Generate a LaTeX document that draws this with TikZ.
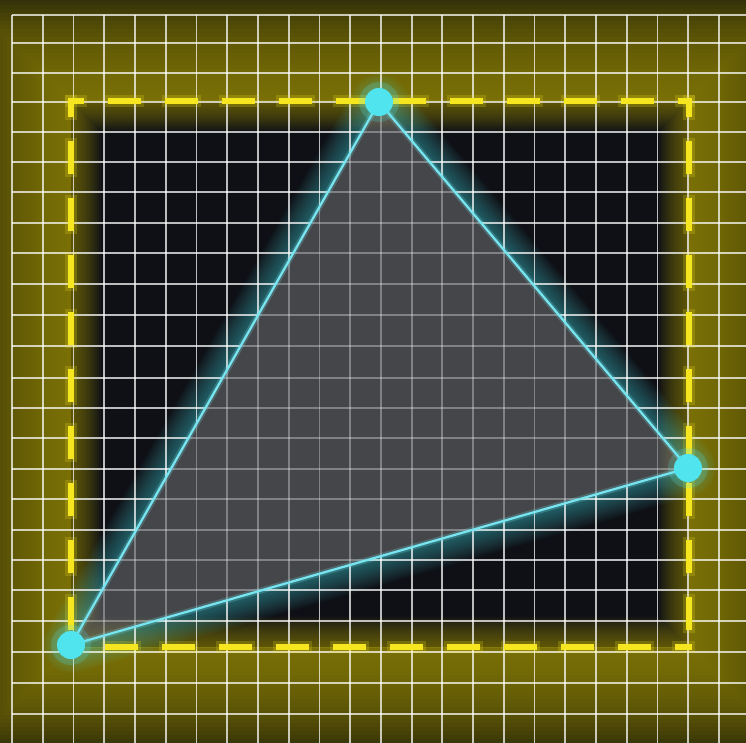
\documentclass[tikz,border=0pt]{standalone}
\usetikzlibrary{calc}
\definecolor{bgolive}{RGB}{38,36,12}
\definecolor{glowy}{RGB}{150,138,6}
\definecolor{innerdark}{RGB}{14,16,21}
\definecolor{dashy}{RGB}{246,230,32}
\definecolor{cyanline}{RGB}{120,230,240}
\definecolor{cyandot}{RGB}{80,228,238}
\definecolor{trifill}{RGB}{122,124,128}
\newcommand\drawmygrid[1]{%
  \foreach \k in {0,...,23}{%
    \pgfmathsetmacro\gx{12+30.74*\k}%
    \draw[gridline,opacity=#1] (\gx,15) -- (\gx,743);}%
  \foreach \gy in {15,43,73,102,132,162,192,223,253,284,315,346,378,408,438,469,499,530,560,590,621,652,683,714}{%
    \draw[gridline,opacity=#1] (12,\gy) -- (746,\gy);}%
}
\begin{document}
\begin{tikzpicture}[x=1pt,y=-1pt,
  gridline/.style={draw=white,line width=1.8pt},
  yd/.style={draw=dashy,line width=5.5pt,line cap=rect,dash pattern=on 27pt off 30pt},
  ydglow/.style={draw=dashy,line width=12pt,line cap=rect,dash pattern=on 27pt off 30pt,opacity=0.2},
  vdot/.style={circle,fill=cyandot,minimum size=28pt,inner sep=0pt,draw=none},
  edge/.style={draw=cyanline,line width=2.2pt,line join=round}]
\useasboundingbox (0,0) rectangle (746,743);
\fill[bgolive] (0,0) rectangle (746,743);
\coordinate (TL) at (71,101);
\coordinate (TR) at (689,101);
\coordinate (BR) at (689,647);
\coordinate (BL) at (71,647);
\coordinate (A) at (379,102);
\coordinate (B) at (688,468);
\coordinate (C) at (71,645);
% outer yellow glow
\foreach \d in {4,8,...,108}{%
  \draw[glowy,line width=2*\d,opacity=0.06] (TL) rectangle (BR);}
% interior
\fill[innerdark] (TL) rectangle (BR);
\begin{scope}
  \clip (TL) rectangle (BR);
  \foreach \d in {2,4,...,30}{%
    \draw[glowy,line width=2*\d,opacity=0.06] (TL) rectangle (BR);}
\end{scope}
% cyan glow outside triangle
\begin{scope}[even odd rule]
  \clip (0,0) rectangle (746,743) (A) -- (B) -- (C) -- cycle;
  \foreach \d in {2,4,...,28}{%
    \draw[cyandot,line width=2*\d,opacity=0.035,line join=round] (A) -- (B) -- (C) -- cycle;}
\end{scope}
% triangle fill
\fill[trifill,opacity=0.5] (A) -- (B) -- (C) -- cycle;
% grid
\begin{scope}[even odd rule]
  \clip (0,0) rectangle (746,743) (A) -- (B) -- (C) -- cycle;
  \drawmygrid{0.72}
\end{scope}
\begin{scope}
  \clip (A) -- (B) -- (C) -- cycle;
  \drawmygrid{0.32}
\end{scope}
% dashed yellow rectangle
\foreach \st in {ydglow,yd}{%
  \draw[\st,dash phase=17pt] (TL) -- (TR);
  \draw[\st,dash phase=14pt] (TR) -- (BR);
  \draw[\st,dash phase=16pt] (BR) -- (BL);
  \draw[\st,dash phase=14pt] (TL) -- (BL);}
% triangle edges
\draw[edge,line width=6pt,opacity=0.22] (A) -- (B) -- (C) -- cycle;
\draw[edge] (A) -- (B) -- (C) -- cycle;
% vertices
\foreach \p in {A,B,C}{%
  \fill[cyandot,opacity=0.2] (\p) circle[radius=20];}
\node[vdot] (dA) at (A) {};
\node[vdot] (dB) at (B) {};
\node[vdot] (dC) at (C) {};
\end{tikzpicture}
\end{document}
